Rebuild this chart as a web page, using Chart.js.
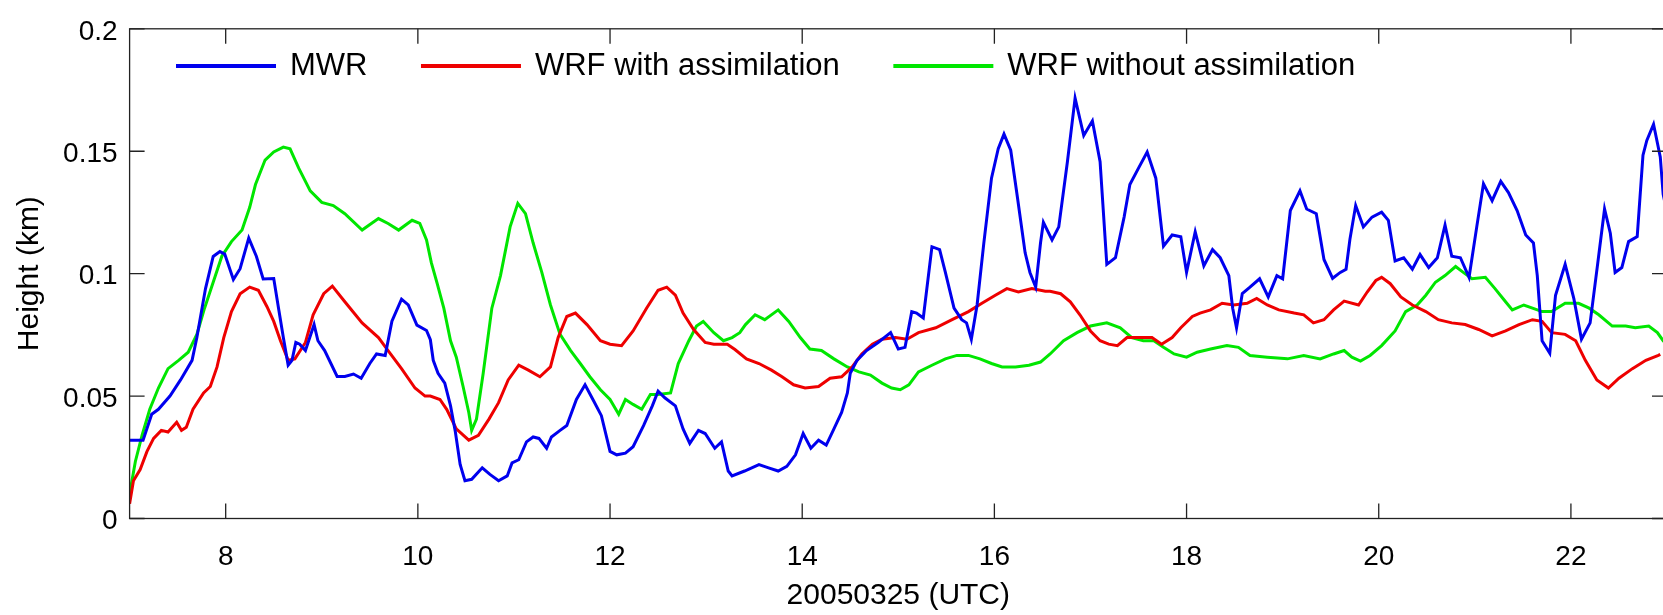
<!DOCTYPE html>
<html>
<head>
<meta charset="utf-8">
<script src="https://cdn.jsdelivr.net/npm/chart.js@4.4.1/dist/chart.umd.min.js"></script>
<style>
  html, body { margin: 0; padding: 0; background: #fff; overflow: hidden; }
  canvas { display: block; }
</style>
</head>
<body>
<canvas id="c" width="1667" height="615"></canvas>
<script>
// ---- data ----
const seriesNames = ['MWR', 'WRF with assimilation', 'WRF without assimilation'];

const mwrHours = [7.0,7.14,7.23,7.30,7.42,7.53,7.65,7.70,7.79,7.87,7.94,7.99,8.08,8.15,8.24,8.32,8.39,8.50,8.55,8.60,8.65,8.69,8.73,8.77,8.83,8.92,8.96,9.03,9.16,9.24,9.33,9.41,9.50,9.57,9.66,9.73,9.83,9.90,9.99,10.09,10.13,10.16,10.21,10.28,10.34,10.39,10.44,10.49,10.56,10.67,10.75,10.84,10.93,10.98,11.05,11.13,11.20,11.26,11.34,11.39,11.48,11.55,11.65,11.74,11.83,11.91,12.0,12.07,12.16,12.24,12.35,12.44,12.50,12.57,12.68,12.76,12.83,12.92,12.99,13.09,13.16,13.23,13.27,13.40,13.55,13.65,13.75,13.84,13.93,14.01,14.09,14.17,14.25,14.33,14.41,14.47,14.50,14.57,14.67,14.79,14.92,15.0,15.07,15.14,15.19,15.26,15.35,15.43,15.49,15.58,15.66,15.71,15.76,15.82,15.89,15.97,16.04,16.10,16.17,16.24,16.32,16.37,16.43,16.48,16.51,16.60,16.67,16.76,16.84,16.93,17.02,17.10,17.17,17.26,17.35,17.41,17.50,17.59,17.68,17.76,17.85,17.94,18.0,18.09,18.18,18.27,18.35,18.44,18.48,18.52,18.58,18.66,18.76,18.85,18.94,19.0,19.08,19.18,19.25,19.35,19.43,19.52,19.60,19.66,19.70,19.76,19.84,19.93,20.03,20.10,20.17,20.26,20.35,20.43,20.52,20.61,20.69,20.76,20.85,20.94,21.02,21.09,21.18,21.27,21.35,21.44,21.53,21.61,21.65,21.70,21.78,21.84,21.94,22.03,22.11,22.20,22.28,22.35,22.41,22.46,22.53,22.60,22.69,22.75,22.79,22.86,22.93,22.96,23.0];
const mwrHeight = [0.032,0.032,0.0426,0.0446,0.050,0.0566,0.0646,0.0739,0.0939,0.107,0.109,0.108,0.0976,0.102,0.1145,0.107,0.0978,0.098,0.0859,0.0739,0.0626,0.0646,0.0719,0.0712,0.0686,0.0792,0.0726,0.0686,0.058,0.058,0.059,0.0573,0.0633,0.0672,0.0666,0.0806,0.0896,0.0872,0.079,0.0768,0.073,0.0646,0.0593,0.0553,0.046,0.0354,0.0221,0.0154,0.016,0.0207,0.018,0.0154,0.0174,0.0227,0.024,0.0313,0.0333,0.0327,0.0287,0.0333,0.036,0.038,0.0486,0.0546,0.048,0.042,0.0274,0.026,0.0267,0.0293,0.038,0.046,0.052,0.0493,0.046,0.0366,0.0307,0.036,0.0347,0.0287,0.0313,0.0194,0.0174,0.0194,0.022,0.0207,0.0194,0.0213,0.026,0.0347,0.0287,0.032,0.030,0.0366,0.0433,0.0513,0.0593,0.0646,0.0686,0.0719,0.0759,0.0692,0.0699,0.0845,0.0839,0.0819,0.111,0.1098,0.1005,0.0859,0.0812,0.0799,0.0732,0.0872,0.1125,0.139,0.151,0.157,0.1504,0.1311,0.1085,0.1005,0.0945,0.1125,0.121,0.1138,0.1191,0.1457,0.1717,0.1564,0.1624,0.1457,0.1038,0.1065,0.1231,0.1364,0.1431,0.1497,0.139,0.1112,0.1158,0.1151,0.1005,0.1171,0.1032,0.1098,0.1065,0.0992,0.0859,0.0779,0.0919,0.0945,0.0979,0.0905,0.0992,0.0979,0.1258,0.1338,0.1264,0.1245,0.1058,0.0981,0.1005,0.1018,0.114,0.1278,0.1191,0.1231,0.1251,0.1218,0.1052,0.1065,0.1018,0.1078,0.1025,0.1065,0.1198,0.1071,0.1065,0.0985,0.1191,0.1367,0.1298,0.1377,0.1331,0.1258,0.1158,0.1125,0.0992,0.0726,0.0675,0.0912,0.1038,0.0899,0.0732,0.0799,0.1045,0.1264,0.1165,0.1005,0.1025,0.1131,0.1151,0.1484,0.1544,0.161,0.1477,0.1324,0.125];

const wrfAssimHours = [7.0,7.04,7.11,7.18,7.25,7.33,7.40,7.49,7.54,7.59,7.66,7.77,7.84,7.91,7.98,8.06,8.15,8.25,8.34,8.43,8.50,8.57,8.65,8.72,8.83,8.91,9.02,9.11,9.24,9.42,9.59,9.69,9.83,9.97,10.075,10.13,10.23,10.30,10.40,10.53,10.63,10.74,10.84,10.94,11.05,11.15,11.27,11.38,11.46,11.55,11.64,11.76,11.90,12.0,12.12,12.24,12.38,12.50,12.59,12.68,12.76,12.87,12.99,13.08,13.22,13.30,13.42,13.55,13.68,13.79,13.91,14.03,14.17,14.29,14.41,14.52,14.62,14.73,14.83,14.97,15.09,15.21,15.39,15.56,15.73,15.87,16.01,16.13,16.25,16.39,16.53,16.58,16.69,16.79,16.89,17.0,17.10,17.19,17.28,17.38,17.52,17.64,17.74,17.85,17.94,18.06,18.14,18.25,18.37,18.49,18.63,18.73,18.84,18.96,19.12,19.22,19.32,19.43,19.53,19.64,19.79,19.88,19.97,20.03,20.12,20.23,20.35,20.49,20.62,20.76,20.90,21.04,21.18,21.32,21.46,21.60,21.70,21.80,21.94,22.05,22.15,22.27,22.39,22.50,22.64,22.78,22.91,22.93];
const wrfAssimHeight = [0.006,0.0154,0.020,0.0273,0.0327,0.036,0.0353,0.0393,0.036,0.0373,0.0446,0.0513,0.0539,0.0619,0.0739,0.0845,0.0918,0.0945,0.0932,0.0865,0.0805,0.0726,0.0646,0.0652,0.0719,0.0832,0.0918,0.0949,0.0885,0.0799,0.0739,0.0686,0.0612,0.0533,0.050,0.050,0.0486,0.0446,0.0366,0.032,0.034,0.0406,0.0473,0.0566,0.0626,0.0606,0.0579,0.0619,0.0739,0.0825,0.0839,0.0792,0.0726,0.0712,0.0706,0.0766,0.0859,0.0932,0.0945,0.0912,0.0839,0.0772,0.0719,0.0712,0.0712,0.069,0.0652,0.0633,0.0606,0.0579,0.0546,0.0533,0.0539,0.0573,0.0579,0.0619,0.0672,0.0712,0.0732,0.0739,0.0732,0.0759,0.0779,0.0812,0.0845,0.0879,0.0912,0.0939,0.0925,0.0939,0.0928,0.0928,0.0918,0.0885,0.0832,0.0766,0.0726,0.0712,0.0706,0.0739,0.0739,0.0739,0.0712,0.0739,0.0779,0.0825,0.0839,0.0852,0.0879,0.0872,0.0879,0.0899,0.0872,0.0852,0.0839,0.0832,0.0799,0.0812,0.0852,0.0888,0.0872,0.0925,0.0972,0.0985,0.0959,0.0905,0.0872,0.0845,0.0812,0.0799,0.0792,0.0772,0.0746,0.0766,0.0792,0.0812,0.0805,0.0759,0.0752,0.0726,0.0646,0.0566,0.0533,0.0573,0.0612,0.0646,0.0666,0.067];

const wrfNoAssimHours = [7.0,7.06,7.13,7.21,7.30,7.40,7.51,7.61,7.70,7.78,7.87,7.96,8.06,8.17,8.25,8.31,8.41,8.50,8.60,8.67,8.76,8.88,9.0,9.12,9.24,9.42,9.49,9.59,9.69,9.80,9.94,10.02,10.09,10.14,10.20,10.27,10.34,10.40,10.47,10.53,10.56,10.61,10.68,10.77,10.86,10.96,11.04,11.12,11.20,11.29,11.38,11.48,11.59,11.69,11.79,11.90,12.0,12.09,12.16,12.24,12.33,12.42,12.50,12.63,12.71,12.82,12.90,12.97,13.08,13.18,13.27,13.35,13.41,13.51,13.61,13.75,13.86,13.98,14.08,14.20,14.33,14.47,14.59,14.71,14.83,14.93,15.02,15.11,15.21,15.35,15.49,15.61,15.73,15.85,15.97,16.08,16.22,16.36,16.48,16.58,16.72,16.86,17.0,17.17,17.31,17.43,17.55,17.66,17.76,17.87,18.0,18.11,18.25,18.42,18.54,18.66,18.84,19.05,19.22,19.39,19.53,19.64,19.72,19.81,19.91,20.03,20.17,20.28,20.40,20.49,20.59,20.69,20.80,20.88,20.97,21.11,21.21,21.32,21.39,21.51,21.60,21.70,21.80,21.94,22.08,22.19,22.29,22.43,22.57,22.67,22.81,22.90,22.96,23.0];
const wrfNoAssimHeight = [0.010,0.0233,0.034,0.0446,0.0533,0.0612,0.0646,0.0679,0.0752,0.0859,0.0965,0.1071,0.1131,0.1178,0.1271,0.1364,0.1464,0.1497,0.1517,0.151,0.1431,0.1338,0.1291,0.1278,0.1245,0.1178,0.1198,0.1225,0.1205,0.1178,0.1218,0.1205,0.1138,0.1045,0.0961,0.0859,0.0726,0.0659,0.054,0.0433,0.036,0.0406,0.0593,0.0859,0.0992,0.1191,0.1287,0.1245,0.1125,0.1005,0.0872,0.0752,0.0686,0.0633,0.0579,0.0526,0.0486,0.0426,0.0486,0.0466,0.0446,0.0506,0.0506,0.0513,0.0633,0.0726,0.0786,0.0805,0.0759,0.0726,0.0739,0.0759,0.0792,0.0832,0.0812,0.0852,0.0805,0.0739,0.0692,0.0686,0.0652,0.0619,0.0599,0.0586,0.0553,0.0533,0.0526,0.0546,0.0599,0.0626,0.0652,0.0666,0.0666,0.0652,0.0633,0.0619,0.0619,0.0626,0.0639,0.0672,0.0726,0.0759,0.0786,0.0799,0.0779,0.0739,0.0726,0.0726,0.0699,0.0672,0.0659,0.0679,0.0692,0.0706,0.0699,0.0666,0.0659,0.0652,0.0666,0.0652,0.0672,0.0686,0.0659,0.0643,0.0666,0.0706,0.0766,0.0845,0.0872,0.0912,0.0965,0.0992,0.1029,0.1005,0.0979,0.0985,0.0939,0.0885,0.0852,0.0872,0.0859,0.0845,0.0845,0.0879,0.0879,0.0859,0.0832,0.0786,0.0786,0.0779,0.0786,0.0759,0.0726,0.071];

const xTickValues = [8, 10, 12, 14, 16, 18, 20, 22];
const xTickLabels = ['8', '10', '12', '14', '16', '18', '20', '22'];
const yTickValues = [0, 0.05, 0.1, 0.15, 0.2];
const yTickLabels = ['0', '0.05', '0.1', '0.15', '0.2'];
const xTitle = '20050325 (UTC)';
const yTitle = 'Height (km)';

// ---- build chart ----
const toPoints = (xs, ys) => xs.map((x, i) => ({ x: x, y: ys[i] }));
const FONT = "'Liberation Sans', Arial, Helvetica, sans-serif";
Chart.defaults.font.family = FONT;
Chart.defaults.color = '#000';

const LEG_PAD = 55;
const LEG_FONT = 31;
const LEG_HEIGHT = LEG_FONT + LEG_PAD + 10;

const framePlugin = {
  id: 'frame',
  afterLayout(chart) {
    const lg = chart.legend;
    if (!lg) return;
    const w = lg.right - lg.left;
    lg.left = 177.5 - LEG_PAD;
    lg.right = lg.left + w;
    lg.top = 50.5 - LEG_PAD;
    lg.bottom = lg.top + LEG_HEIGHT + 20;
  },
  afterDraw(chart) {
    const { ctx, chartArea: a, scales } = chart;
    const xs = scales.x, ys = scales.y;
    const L = 15;
    ctx.save();
    ctx.strokeStyle = '#222';
    ctx.lineWidth = 1.3;
    ctx.strokeRect(a.left, a.top, a.right - a.left, a.bottom - a.top);
    ctx.beginPath();
    xTickValues.forEach(v => {
      const px = xs.getPixelForValue(v);
      ctx.moveTo(px, a.bottom); ctx.lineTo(px, a.bottom - L);
      ctx.moveTo(px, a.top); ctx.lineTo(px, a.top + L);
    });
    yTickValues.forEach(v => {
      const py = ys.getPixelForValue(v);
      ctx.moveTo(a.left, py); ctx.lineTo(a.left + L, py);
      ctx.moveTo(a.right, py); ctx.lineTo(a.right - L, py);
    });
    ctx.stroke();
    ctx.restore();
  }
};

const lineDs = (label, xs, ys, color) => ({
  label: label,
  data: toPoints(xs, ys),
  borderColor: color,
  backgroundColor: color,
  borderWidth: 3,
  pointRadius: 0,
  tension: 0,
  fill: false
});

new Chart(document.getElementById('c'), {
  type: 'line',
  data: {
    datasets: [
      lineDs(seriesNames[0], mwrHours, mwrHeight, '#0000ee'),
      lineDs(seriesNames[1], wrfAssimHours, wrfAssimHeight, '#ee0000'),
      lineDs(seriesNames[2], wrfNoAssimHours, wrfNoAssimHeight, '#00e600')
    ]
  },
  options: {
    responsive: false,
    devicePixelRatio: 1,
    animation: false,
    layout: { padding: { top: 17.3 - LEG_HEIGHT, left: 0, right: 0, bottom: 0 } },
    plugins: {
      legend: {
        display: true,
        position: 'top',
        align: 'start',
        labels: {
          boxWidth: 97,
          boxHeight: 1,
          padding: LEG_PAD,
          color: '#000',
          font: { size: LEG_FONT, family: FONT }
        }
      },
      tooltip: { enabled: false },
      title: { display: false }
    },
    scales: {
      x: {
        type: 'linear',
        min: 7,
        max: 23,
        afterBuildTicks: s => { s.ticks = xTickValues.map(v => ({ value: v })); },
        afterFit: s => { s.height = 96.5; },
        grid: { display: false, drawTicks: false },
        border: { display: false },
        ticks: {
          autoSkip: false,
          maxRotation: 0,
          padding: 22,
          font: { size: 28, family: FONT },
          color: '#000',
          callback: (v, i) => xTickLabels[i]
        },
        title: {
          display: true,
          text: xTitle,
          color: '#000',
          font: { size: 30, family: FONT },
          padding: { top: 0, bottom: 1 }
        }
      },
      y: {
        type: 'linear',
        min: 0,
        max: 0.2,
        afterBuildTicks: s => { s.ticks = yTickValues.map(v => ({ value: v })); },
        afterFit: s => { s.width = 129.6; },
        grid: { display: false, drawTicks: false },
        border: { display: false },
        ticks: {
          autoSkip: false,
          padding: 12,
          labelOffset: 3,
          font: { size: 28, family: FONT },
          color: '#000',
          callback: (v, i) => yTickLabels[i]
        },
        title: {
          display: true,
          text: yTitle,
          color: '#000',
          font: { size: 30, family: FONT },
          padding: { top: 12, bottom: 0 }
        }
      }
    }
  },
  plugins: [framePlugin]
});
</script>
</body>
</html>
